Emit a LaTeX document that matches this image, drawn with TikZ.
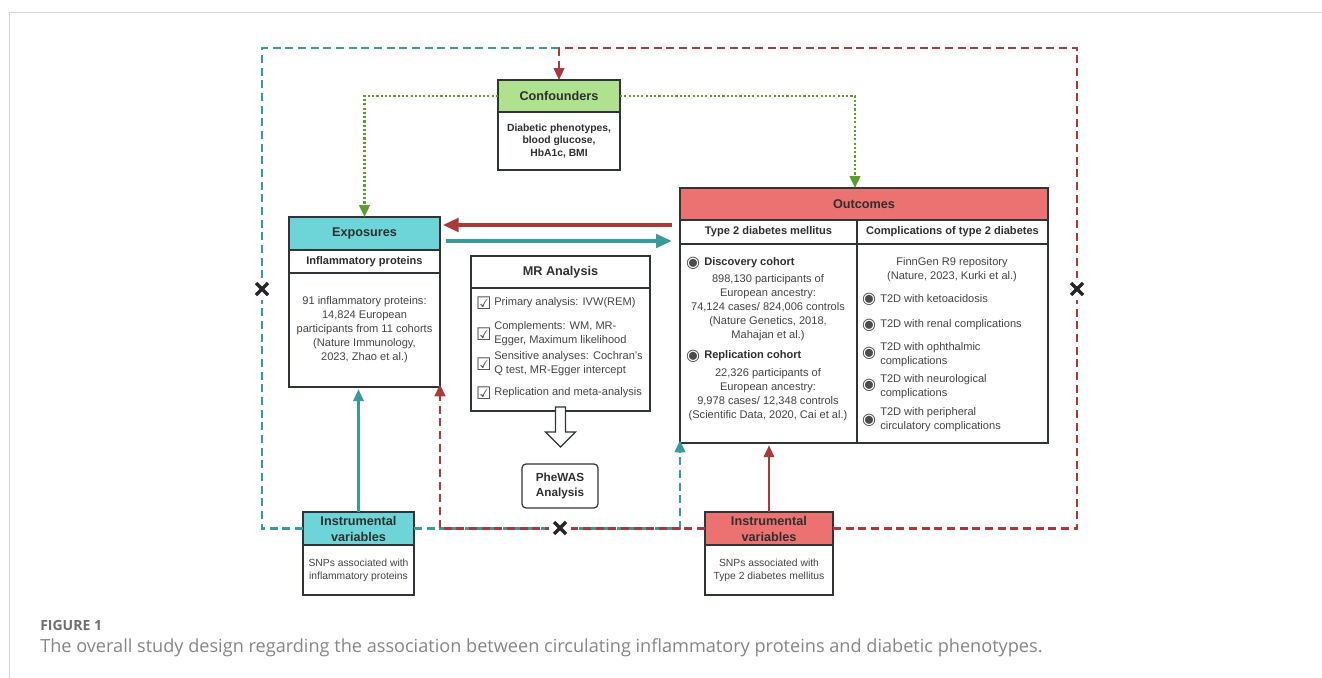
\documentclass[tikz,border=0pt]{standalone}
\usepackage{fontspec}
\setmainfont{Liberation Sans}
\newfontfamily\capfont{Open Sans}
\newfontfamily\symfont{DejaVu Sans}
\usepackage{xcolor}
\usetikzlibrary{arrows.meta}

\definecolor{tealline}{HTML}{3A9A9A}
\definecolor{redline}{HTML}{A93A3A}
\definecolor{greenline}{HTML}{5C9E2E}
\definecolor{tealfill}{HTML}{6DD5D7}
\definecolor{redfill}{HTML}{EB7270}
\definecolor{greenfill}{HTML}{AEE28E}
\definecolor{boxline}{HTML}{2F3439}
\definecolor{headtext}{HTML}{2F2F2F}
\definecolor{bodytext}{HTML}{444444}
\definecolor{framegray}{HTML}{D4D4D4}
\definecolor{capgray}{HTML}{6F6F6F}

\tikzset{
  box/.style={draw=boxline, line width=1.1pt, anchor=north west, inner sep=0pt, outer sep=0pt, align=center},
  hd/.style={box, text=headtext, font=\bfseries\fontsize{9.5}{12}\selectfont},
  subhd/.style={box, fill=white, text=headtext, font=\bfseries\fontsize{8.3}{10}\selectfont},
  bodybox/.style={box, fill=white, text=bodytext, font=\fontsize{8.3}{10.5}\selectfont},
  item/.style={anchor=west, inner sep=0pt, align=left, text=bodytext, font=\fontsize{8.3}{10.5}\selectfont},
  itemc/.style={inner sep=0pt, align=center, text=bodytext, font=\fontsize{8.3}{10.5}\selectfont},
  chk/.style={inner sep=0pt, text=black!70, font=\symfont\fontsize{13}{13}\selectfont},
  radio/.style={inner sep=0pt, text=black!70, font=\symfont\fontsize{12}{12}\selectfont},
  tdash/.style={draw=tealline, line width=1.7pt, dash pattern=on 6pt off 3.5pt},
  rdash/.style={draw=redline, line width=1.7pt, dash pattern=on 6pt off 3.5pt},
  gdot/.style={draw=greenline, line width=1.8pt, dash pattern=on 1.6pt off 1.6pt},
  smalltip/.style={-{Triangle[length=9pt,width=8pt]}},
  bigtip/.style={-{Triangle[length=12pt,width=10pt]}},
  midtip/.style={-{Triangle[length=9pt,width=7.5pt]}},
  xmark/.style={fill=white, inner sep=0pt, minimum size=17pt,
    path picture={
      \draw[line width=2.4pt, black!85] ([shift={(-4.5pt,-4.5pt)}]path picture bounding box.center) -- ([shift={(4.5pt,4.5pt)}]path picture bounding box.center);
      \draw[line width=2.4pt, black!85] ([shift={(-4.5pt,4.5pt)}]path picture bounding box.center) -- ([shift={(4.5pt,-4.5pt)}]path picture bounding box.center);}}
}

\begin{document}
\begin{tikzpicture}[x=0.75pt,y=0.75pt,yscale=-1,xscale=1]

\useasboundingbox (0,0) rectangle (1322,678);

\draw[framegray, line width=1.1pt] (9.5,678) -- (9.5,12.5) -- (1322,12.5);

\node[hd, fill=greenfill, minimum width=91.5pt, minimum height=24pt] (confhd) at (498,80) {Confounders};
\node[bodybox, font=\bfseries\fontsize{7.75}{9.4}\selectfont, text=headtext, minimum width=91.5pt, minimum height=43.5pt] (confbody) at (confhd.south west) {Diabetic phenotypes,\\blood glucose,\\HbA1c, BMI};

\node[hd, fill=tealfill, minimum width=113.25pt, minimum height=24.75pt] (expohd) at (289,217) {Exposures};
\node[subhd, minimum width=113.25pt, minimum height=17.25pt] (exposub) at (expohd.south west) {Inflammatory proteins};
\node[bodybox, minimum width=113.25pt, minimum height=85.5pt] (expobody) at (exposub.south west) {91 inflammatory proteins:\\14,824 European\\participants from 11 cohorts\\(Nature Immunology,\\2023, Zhao et al.)};

\node[hd, fill=white, minimum width=134.25pt, minimum height=24pt] (mrhd) at (471,256) {MR Analysis};
\node[bodybox, minimum width=134.25pt, minimum height=92.25pt] (mrbody) at (mrhd.south west) {};

\node[chk] (chk1) at (484,303) {☑};
\node[item] (mr1) at (494,303) {Primary analysis: IVW(REM)};
\node[chk] (chk2) at (484,334) {☑};
\node[item] (mr2) at (494,334) {Complements: WM, MR-\\Egger, Maximum likelihood};
\node[chk] (chk3) at (484,364) {☑};
\node[item] (mr3) at (494,364) {Sensitive analyses: Cochran's\\Q test, MR-Egger intercept};
\node[chk] (chk4) at (484,393) {☑};
\node[item] (mr4) at (494,393) {Replication and meta-analysis};

\draw[boxline, line width=0.9pt, fill=white] ([yshift=-3pt]mrbody.south) ++(-5,0) -- ++(0,25) -- ++(-10,0) -- ++(15,15) -- ++(15,-15) -- ++(-10,0) -- ++(0,-25) -- cycle;

\node[draw=boxline, line width=0.9pt, rounded corners=3pt, minimum width=57pt, minimum height=33pt, inner sep=0pt, align=center, text=headtext, font=\bfseries\fontsize{8.8}{11.25}\selectfont] (phewas) at (560,486) {PheWAS\\Analysis};

\node[hd, fill=redfill, minimum width=276pt, minimum height=24pt] (outhd) at (680,188) {Outcomes};
\node[subhd, minimum width=132.75pt, minimum height=18pt] (t2dhd) at (outhd.south west) {Type 2 diabetes mellitus};
\node[subhd, minimum width=143.25pt, minimum height=18pt] (comphd) at (t2dhd.north east) {Complications of type 2 diabetes};
\node[bodybox, minimum width=132.75pt, minimum height=149.25pt] (t2dbody) at (t2dhd.south west) {};
\node[bodybox, minimum width=143.25pt, minimum height=149.25pt] (compbody) at (t2dbody.north east) {};

\node[radio] (rdisc) at (693,263) {◉};
\node[item, font=\bfseries\fontsize{8.3}{10.5}\selectfont, text=headtext] (disc) at (704,263) {Discovery cohort};
\node[itemc] (disctxt) at (768,308) {898,130 participants of\\European ancestry:\\74,124 cases/ 824,006 controls\\(Nature Genetics, 2018,\\Mahajan et al.)};
\node[radio] (rrepl) at (693,356) {◉};
\node[item, font=\bfseries\fontsize{8.3}{10.5}\selectfont, text=headtext] (repl) at (704,356) {Replication cohort};
\node[itemc] (repltxt) at (768,395) {22,326 participants of\\European ancestry:\\9,978 cases/ 12,348 controls\\(Scientific Data, 2020, Cai et al.)};

\node[itemc] (finngen) at (952,269.5) {FinnGen R9 repository\\(Nature, 2023, Kurki et al.)};
\node[radio] (rc1) at (869,299) {◉};
\node[item] (c1) at (880,299) {T2D with ketoacidosis};
\node[radio] (rc2) at (869,325) {◉};
\node[item] (c2) at (880,325) {T2D with renal complications};
\node[radio] (rc3) at (869,353) {◉};
\node[item] (c3) at (880,354.5) {T2D with ophthalmic\\complications};
\node[radio] (rc4) at (869,385) {◉};
\node[item] (c4) at (880,386.5) {T2D with neurological\\complications};
\node[radio] (rc5) at (869,420) {◉};
\node[item] (c5) at (880,420) {T2D with peripheral\\circulatory complications};

\node[hd, fill=tealfill, minimum width=83.25pt, minimum height=24.75pt] (iv1hd) at (303,512) {Instrumental\\variables};
\node[bodybox, font=\fontsize{7.75}{10}\selectfont, minimum width=83.25pt, minimum height=37.5pt] (iv1body) at (iv1hd.south west) {SNPs associated with\\inflammatory proteins};

\node[hd, fill=redfill, minimum width=96pt, minimum height=24.75pt] (iv2hd) at (705,512) {Instrumental\\variables};
\node[bodybox, font=\fontsize{7.75}{10}\selectfont, minimum width=96pt, minimum height=37.5pt] (iv2body) at (iv2hd.south west) {SNPs associated with\\Type 2 diabetes mellitus};

\coordinate (lcorner) at (262,48);
\coordinate (rcorner) at (1077,48);
\coordinate (topmid) at (confhd.north |- lcorner);

\draw[tdash] (iv1hd.west) -| (lcorner) -- (topmid);
\draw[rdash] (iv2hd.east) -| (rcorner) -- (topmid);
\draw[rdash, smalltip] (topmid) -- (confhd.north);

\draw[gdot, smalltip] (confhd.west) -| (expohd.north);
\draw[gdot, smalltip] (confhd.east) -| ([xshift=-6.75pt]outhd.north);

\draw[tdash, smalltip] (iv1hd.east) -| ([yshift=-2pt]t2dbody.south west);
\draw[rdash, smalltip] (iv2hd.west) -| ([yshift=-2pt]expobody.south east);

\draw[redline, line width=3pt, bigtip, shorten <=6pt, shorten >=2pt] (t2dhd.west |- 0,225) -- (expohd.east |- 0,225);
\draw[tealline, line width=3pt, bigtip, shorten <=4.5pt, shorten >=6pt] (expohd.east |- 0,241) -- (t2dhd.west |- 0,241);

\draw[tealline, line width=2.2pt, midtip, shorten >=1.5pt] (iv1hd.north) -- (iv1hd.north |- expobody.south);
\draw[redline, line width=2.2pt, midtip, shorten >=1.5pt] (iv2hd.north) -- (iv2hd.north |- t2dbody.south);

\node[xmark] (xleft) at (262,289) {};
\node[xmark] (xright) at (1077,289) {};
\node[xmark] (xmid) at (560,528) {};

\node[anchor=west, inner sep=0pt, text=capgray, font=\capfont\bfseries\fontsize{10.5}{12}\selectfont] (figlbl) at (40,625) {FIGURE 1};
\node[anchor=west, inner sep=0pt, text=capgray!85, font=\capfont\fontsize{13.6}{16}\selectfont] (figcap) at (40,648) {The overall study design regarding the association between circulating inflammatory proteins and diabetic phenotypes.};

\end{tikzpicture}
\end{document}
